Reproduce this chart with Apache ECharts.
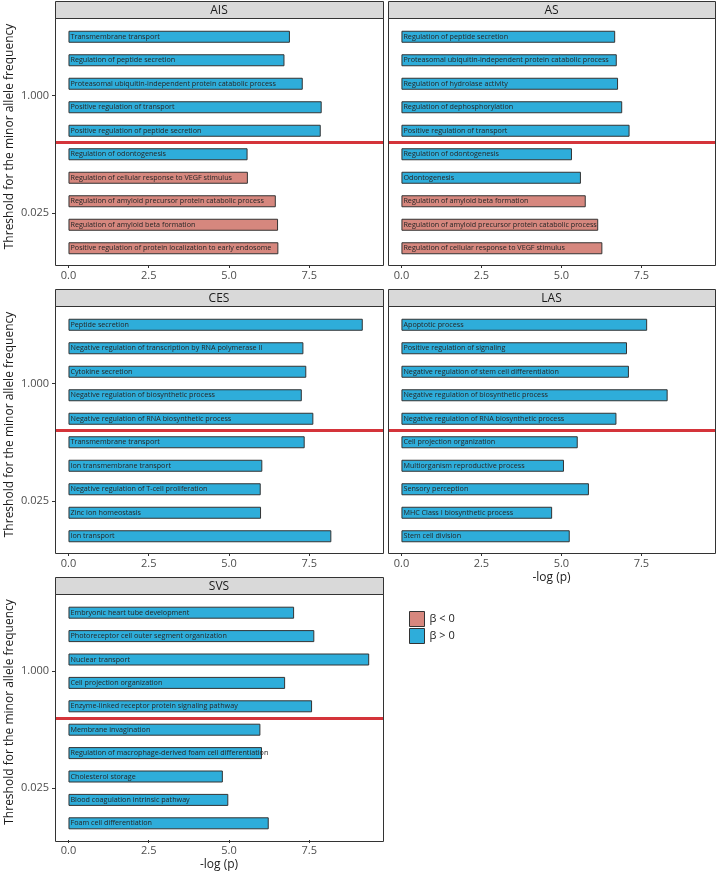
<!DOCTYPE html>
<html>
<head>
<meta charset="utf-8">
<script src="https://cdn.jsdelivr.net/npm/echarts@6/dist/echarts.min.js"></script>
<style>
html, body { margin: 0; padding: 0; background: #fff; }
#chart { width: 717px; height: 872px; }
</style>
</head>
<body>
<div id="chart"></div>
<script>
// panels, in reading order
var panelNames = ['AIS', 'AS', 'CES', 'LAS', 'SVS']

// GO terms per panel, top to bottom; values are -log(p); sign: 1 = beta > 0, -1 = beta < 0
var aisTerms = ['Transmembrane transport', 'Regulation of peptide secretion',
  'Proteasomal ubiquitin-independent protein catabolic process', 'Positive regulation of transport',
  'Positive regulation of peptide secretion', 'Regulation of odontogenesis',
  'Regulation of cellular response to VEGF stimulus', 'Regulation of amyloid precursor protein catabolic process',
  'Regulation of amyloid beta formation', 'Positive regulation of protein localization to early endosome']
var aisValues = [6.90, 6.73, 7.30, 7.89, 7.86, 5.58, 5.59, 6.46, 6.53, 6.54]
var aisSign = [1, 1, 1, 1, 1, 1, -1, -1, -1, -1]

var asTerms = ['Regulation of peptide secretion', 'Proteasomal ubiquitin-independent protein catabolic process',
  'Regulation of hydrolase activity', 'Regulation of dephosphorylation', 'Positive regulation of transport',
  'Regulation of odontogenesis', 'Odontogenesis', 'Regulation of amyloid beta formation',
  'Regulation of amyloid precursor protein catabolic process', 'Regulation of cellular response to VEGF stimulus']
var asValues = [6.68, 6.73, 6.77, 6.90, 7.13, 5.33, 5.61, 5.76, 6.15, 6.28]
var asSign = [1, 1, 1, 1, 1, 1, 1, -1, -1, -1]

var cesTerms = ['Peptide secretion', 'Negative regulation of transcription by RNA polymerase II',
  'Cytokine secretion', 'Negative regulation of biosynthetic process',
  'Negative regulation of RNA biosynthetic process', 'Transmembrane transport', 'Ion transmembrane transport',
  'Negative regulation of T-cell proliferation', 'Zinc ion homeostasis', 'Ion transport']
var cesValues = [9.17, 7.32, 7.41, 7.27, 7.63, 7.36, 6.04, 5.99, 6.00, 8.19]
var cesSign = [1, 1, 1, 1, 1, 1, 1, 1, 1, 1]

var lasTerms = ['Apoptotic process', 'Positive regulation of signaling',
  'Negative regulation of stem cell differentiation', 'Negative regulation of biosynthetic process',
  'Negative regulation of RNA biosynthetic process', 'Cell projection organization',
  'Multiorganism reproductive process', 'Sensory perception', 'MHC Class I biosynthetic process',
  'Stem cell division']
var lasValues = [7.68, 7.05, 7.11, 8.32, 6.72, 5.51, 5.08, 5.86, 4.71, 5.26]
var lasSign = [1, 1, 1, 1, 1, 1, 1, 1, 1, 1]

var svsTerms = ['Embryonic heart tube development', 'Photoreceptor cell outer segment organization',
  'Nuclear transport', 'Cell projection organization', 'Enzyme-linked receptor protein signaling pathway',
  'Membrane invagination', 'Regulation of macrophage-derived foam cell differentiation',
  'Cholesterol storage', 'Blood coagulation intrinsic pathway', 'Foam cell differentiation']
var svsValues = [7.03, 7.66, 9.37, 6.75, 7.59, 5.98, 6.03, 4.81, 4.98, 6.24]
var svsSign = [1, 1, 1, 1, 1, 1, 1, 1, 1, 1]

var xTicks = [0, 2.5, 5, 7.5]
var mafTicks = ['1.000', '0.025']
var legendNames = ['β < 0', 'β > 0']

var panelTerms = [aisTerms, asTerms, cesTerms, lasTerms, svsTerms]
var panelValues = [aisValues, asValues, cesValues, lasValues, svsValues]
var panelSign = [aisSign, asSign, cesSign, lasSign, svsSign]

// layout of each facet (frame left/right, strip top)
var boxes = [
  {left: 55, right: 383, top: 1},
  {left: 388, right: 715, top: 1},
  {left: 55, right: 383, top: 289},
  {left: 388, right: 715, top: 289},
  {left: 55, right: 383, top: 577}
]
var STRIP = 17
var FRAME_H = 247
var FONT = 'Open Sans'
var BLUE = '#2EADDA'
var SALMON = '#D6877E'

var grids = []
var xAxes = []
var yAxes = []
var series = []
var graphics = []

for (let i = 0; i < boxes.length; i++) {
  let b = boxes[i]
  let isLeft = b.left < 100
  let showXName = (i === 3 || i === 4)
  let frameTop = b.top + STRIP
  let terms = panelTerms[i]

  grids.push({left: b.left, width: b.right - b.left, top: frameTop + 7, height: 235})

  xAxes.push({
    gridIndex: i,
    type: 'value',
    position: 'bottom',
    min: -0.42,
    max: 9.8,
    offset: 5,
    axisLine: {show: false, onZero: false},
    splitLine: {show: false},
    axisTick: {customValues: xTicks, length: 3, lineStyle: {color: '#333'}},
    axisLabel: {
      customValues: xTicks,
      formatter: function (v) { return v.toFixed(1) },
      color: '#4d4d4d', fontSize: 11, fontFamily: FONT, margin: 5
    },
    name: showXName ? '-log (p)' : '',
    nameLocation: 'middle',
    nameGap: 19,
    nameTextStyle: {fontSize: 12, color: '#1a1a1a', fontFamily: FONT}
  })

  // bars sit on a hidden category axis
  yAxes.push({gridIndex: i, type: 'category', position: 'left', data: terms, inverse: true, show: false})
  // value axis carries the MAF tick labels and the split line
  yAxes.push({
    gridIndex: i,
    type: 'value',
    position: 'left',
    show: isLeft,
    min: 0,
    max: 10,
    inverse: true,
    axisLine: {show: false, onZero: false},
    splitLine: {show: false},
    axisTick: {customValues: [3, 8], length: 3, lineStyle: {color: '#333'}},
    axisLabel: {
      customValues: [3, 8],
      formatter: function (v) { return v < 5 ? mafTicks[0] : mafTicks[1] },
      color: '#4d4d4d', fontSize: 11, fontFamily: FONT, margin: 6
    },
    name: isLeft ? 'Threshold for the minor allele frequency' : '',
    nameLocation: 'middle',
    nameGap: 39,
    nameTextStyle: {fontSize: 12, color: '#1a1a1a', fontFamily: FONT, padding: [0, 0, 0, 12]}
  })

  let vals = panelValues[i]
  let sign = panelSign[i]
  let barLabel = {
    show: true,
    position: 'insideLeft',
    distance: 2,
    formatter: function (p) { return terms[p.dataIndex] },
    fontSize: 7.2,
    fontFamily: FONT,
    color: '#262626'
  }
  series.push({
    type: 'bar',
    name: legendNames[0],
    xAxisIndex: i,
    yAxisIndex: 2 * i,
    data: vals.map(function (v, k) { return sign[k] < 0 ? v : '-' }),
    barWidth: 12,
    barGap: '-100%',
    itemStyle: {color: SALMON, borderColor: '#333', borderWidth: 1},
    label: barLabel,
    silent: true
  })
  series.push({
    type: 'bar',
    name: legendNames[1],
    xAxisIndex: i,
    yAxisIndex: 2 * i,
    data: vals.map(function (v, k) { return sign[k] > 0 ? v : '-' }),
    barWidth: 12,
    barGap: '-100%',
    itemStyle: {color: BLUE, borderColor: '#333', borderWidth: 1},
    label: barLabel,
    silent: true
  })
  // red line between the two MAF groups
  series.push({
    type: 'line',
    xAxisIndex: i,
    yAxisIndex: 2 * i + 1,
    data: [],
    markLine: {
      silent: true,
      symbol: ['none', 'none'],
      label: {show: false},
      lineStyle: {color: '#D4343A', width: 3, type: 'solid'},
      data: [{yAxis: 5}]
    }
  })

  // facet strip and frame
  graphics.push({
    type: 'rect',
    shape: {x: b.left + 0.5, y: b.top + 0.5, width: b.right - b.left, height: STRIP},
    style: {fill: '#D9D9D9', stroke: '#333', lineWidth: 1}
  })
  graphics.push({
    type: 'text',
    x: (b.left + b.right) / 2,
    y: b.top + STRIP / 2 + 1,
    style: {text: panelNames[i], align: 'center', verticalAlign: 'middle', fill: '#1a1a1a', font: '12px "Open Sans"'}
  })
  graphics.push({
    type: 'rect',
    shape: {x: b.left + 0.5, y: frameTop + 0.5, width: b.right - b.left, height: FRAME_H},
    style: {fill: 'none', stroke: '#333', lineWidth: 1},
    z: 10
  })
}

let chart = echarts.init(document.getElementById('chart'), null, {renderer: 'canvas'})
chart.setOption({
  animation: false,
  backgroundColor: '#fff',
  textStyle: {fontFamily: FONT},
  grid: grids,
  xAxis: xAxes,
  yAxis: yAxes,
  series: series,
  graphic: graphics,
  legend: {
    data: legendNames,
    orient: 'vertical',
    left: 404,
    top: 606,
    itemWidth: 15,
    itemHeight: 15,
    itemGap: 1,
    icon: 'rect',
    selectedMode: false,
    itemStyle: {borderColor: '#333', borderWidth: 1},
    textStyle: {fontSize: 11, color: '#1a1a1a', fontFamily: FONT}
  }
})
</script>
</body>
</html>
